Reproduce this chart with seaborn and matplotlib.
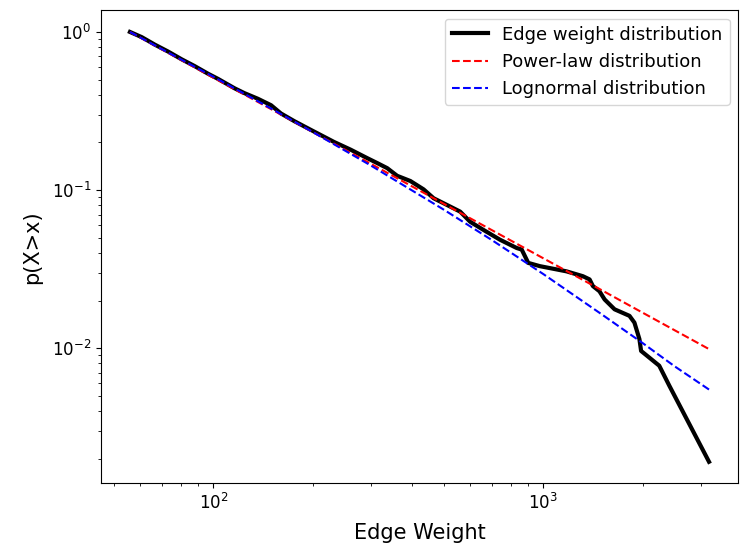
"""Edge weight CCDF with power-law and lognormal fits (log-log)."""

import matplotlib
matplotlib.use("Agg")
import matplotlib.pyplot as plt
import numpy as np
import pandas as pd
import seaborn as sns

edge_weight = [
    55.9, 60.7, 66.5, 73.0, 80.1, 87.8, 96.4, 103.3, 116.0, 124.3,
    136.4, 149.6, 160.3, 175.8, 197.6, 232.3, 260.7, 292.9, 314.0, 336.5,
    360.7, 395.6, 433.6, 465.2, 510.3, 559.8, 600.0, 658.0, 739.0, 830.0,
    860.0, 900.0, 976.0, 1175.0, 1318.0, 1381.0, 1413.0, 1479.0, 1534.0, 1644.0,
    1824.0, 1888.0, 1955.0, 1978.0, 2245.0, 2408.0, 3177.0,
]
ccdf = [
    1.0, 0.927, 0.831, 0.751, 0.672, 0.608, 0.544, 0.505, 0.440, 0.410,
    0.378, 0.344, 0.305, 0.273, 0.240, 0.2013, 0.1800, 0.1590, 0.1480, 0.1375,
    0.1230, 0.1140, 0.1010, 0.0887, 0.0805, 0.0730, 0.0630, 0.0560, 0.0485, 0.0430,
    0.0420, 0.0346, 0.0330, 0.0306, 0.0285, 0.0272, 0.0247, 0.0229, 0.0203, 0.0176,
    0.0160, 0.0145, 0.0114, 0.0096, 0.00774, 0.00579, 0.00191,
]

# fitted curves, sampled on a common grid
fit_x = [55.9, 80, 100, 150, 200, 300, 500, 700, 1000, 1500, 2000, 2500, 3177]
powerlaw_y = [1.0, 0.664, 0.514, 0.324, 0.2328, 0.1466, 0.0817, 0.0556,
              0.0370, 0.0233, 0.01675, 0.01297, 0.00986]
lognormal_y = [1.0, 0.668, 0.521, 0.327, 0.233, 0.143, 0.0750, 0.0481,
               0.0294, 0.0164, 0.01076, 0.00767, 0.00547]

emp = pd.DataFrame({"x": edge_weight, "y": ccdf})
fits = pd.DataFrame({"x": fit_x, "pl": powerlaw_y, "ln": lognormal_y})

fig = plt.figure(figsize=(7.41, 5.56), dpi=100)
ax = fig.add_axes([0.1363, 0.1308, 0.8596, 0.8504])

sns.lineplot(data=emp, x="x", y="y", ax=ax, color="black", linewidth=3,
             estimator=None, sort=False, label="Edge weight distribution")
sns.lineplot(data=fits, x="x", y="pl", ax=ax, color="red", linestyle="--",
             linewidth=1.5, estimator=None, sort=False, label="Power-law distribution")
sns.lineplot(data=fits, x="x", y="ln", ax=ax, color="blue", linestyle="--",
             linewidth=1.5, estimator=None, sort=False, label="Lognormal distribution")

ax.set_xscale("log")
ax.set_yscale("log")
ax.set_xlabel("Edge Weight", fontsize=15, labelpad=7)
ax.set_ylabel("p(X>x)", fontsize=15, labelpad=7)
ax.tick_params(axis="both", which="major", labelsize=12)
ax.legend(loc="upper right", fontsize=13, borderaxespad=0.45)

fig.savefig("out.png", dpi=100)
